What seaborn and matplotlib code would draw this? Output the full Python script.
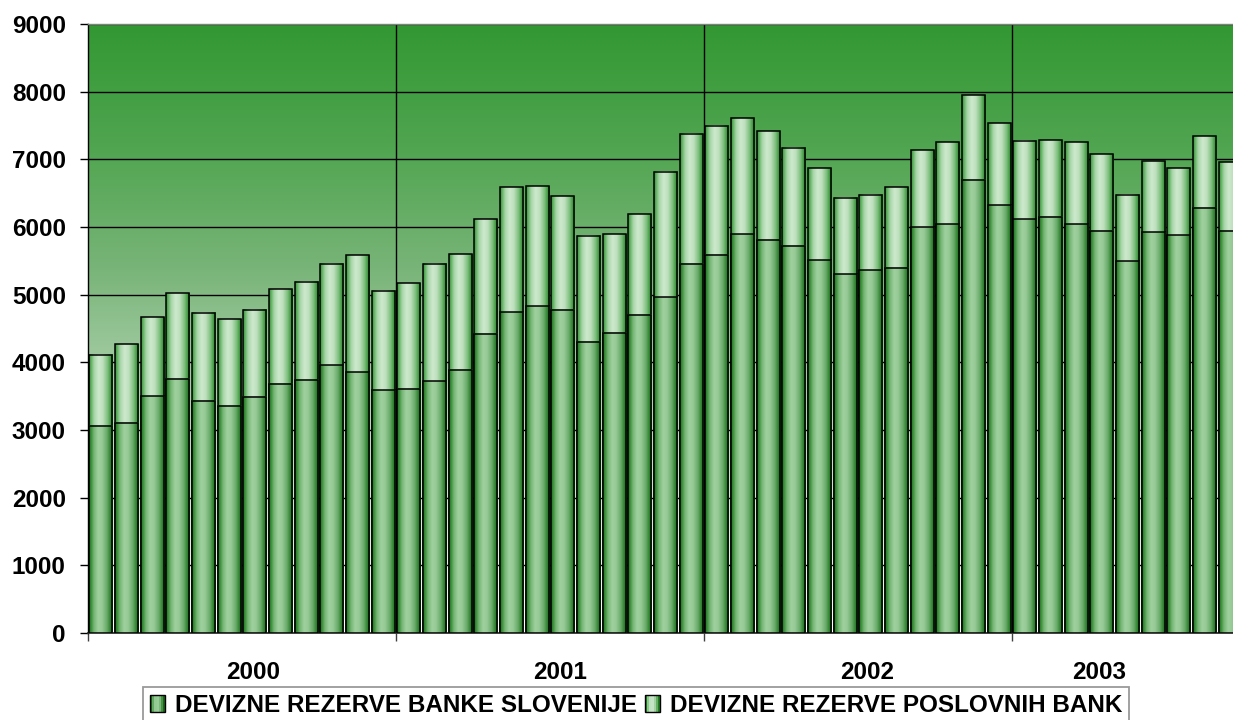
import numpy as np
import pandas as pd
import matplotlib
matplotlib.use("Agg")
import matplotlib.pyplot as plt
import seaborn as sns
from matplotlib.colors import LinearSegmentedColormap
from matplotlib.legend_handler import HandlerBase
from matplotlib.patches import Rectangle, Patch

# ---------------- data ----------------
months = pd.period_range("2000-01", "2003-09", freq="M").strftime("%Y-%m").tolist()
year_labels = ["2000", "2001", "2002", "2003"]
year_label_pos = [5.92, 17.9, 29.85, 38.9]
year_bounds = [-0.5, 11.5, 23.5, 35.5]

banka_slovenije = [3060, 3110, 3500, 3755, 3435, 3360, 3490, 3680, 3740, 3960, 3850, 3590,
                   3610, 3720, 3890, 4420, 4740, 4830, 4780, 4305, 4440, 4700, 4965, 5455,
                   5590, 5890, 5815, 5720, 5505, 5300, 5360, 5400, 6000, 6040, 6700, 6320,
                   6115, 6155, 6040, 5945, 5495, 5920, 5875, 6285, 5945]
poslovne_banke = [1050, 1160, 1165, 1265, 1300, 1280, 1285, 1400, 1450, 1495, 1735, 1465,
                  1560, 1735, 1710, 1695, 1850, 1770, 1675, 1565, 1450, 1490, 1850, 1925,
                  1905, 1720, 1600, 1450, 1365, 1135, 1115, 1190, 1135, 1210, 1250, 1210,
                  1160, 1130, 1210, 1130, 980, 1055, 995, 1055, 1010]
series_names = ["DEVIZNE REZERVE BANKE SLOVENIJE", "DEVIZNE REZERVE POSLOVNIH BANK"]
yticks = [0, 1000, 2000, 3000, 4000, 5000, 6000, 7000, 8000, 9000]

df = pd.DataFrame({"mesec": months, "bs": banka_slovenije, "pb": poslovne_banke})
df["skupaj"] = df["bs"] + df["pb"]

# ---------------- style ----------------
sns.set_theme(style="white")
plt.rcParams["font.family"] = ["Liberation Sans", "DejaVu Sans"]
plt.rcParams["font.weight"] = "bold"
plt.rcParams["text.color"] = "black"
plt.rcParams["xtick.color"] = "black"
plt.rcParams["ytick.color"] = "black"

W, H = 1233, 720
fig = plt.figure(figsize=(W / 100, H / 100), dpi=100)
ax_left, ax_right, ax_top, ax_bot = 88, 1243, 24, 633
ax = fig.add_axes([ax_left / W, (H - ax_bot) / H, (ax_right - ax_left) / W, (ax_bot - ax_top) / H])

def rgb(*c):
    return tuple(v / 255 for v in c)

low_cmap = LinearSegmentedColormap.from_list("low", [
    (0.00, rgb(25, 110, 25)), (0.08, rgb(55, 140, 55)), (0.20, rgb(115, 180, 115)),
    (0.38, rgb(158, 208, 158)), (0.55, rgb(150, 202, 150)), (0.75, rgb(105, 170, 105)),
    (0.90, rgb(45, 128, 45)), (1.00, rgb(25, 105, 25))])
up_cmap = LinearSegmentedColormap.from_list("up", [
    (0.00, rgb(40, 140, 40)), (0.08, rgb(95, 175, 95)), (0.22, rgb(170, 215, 170)),
    (0.40, rgb(205, 233, 205)), (0.58, rgb(190, 224, 190)), (0.78, rgb(125, 190, 125)),
    (0.92, rgb(60, 150, 60)), (1.00, rgb(35, 125, 35))])
bg_cmap = LinearSegmentedColormap.from_list("bg", [
    (0.0, rgb(255, 255, 255)), (0.35, rgb(185, 215, 185)), (0.6, rgb(120, 180, 120)),
    (0.8, rgb(80, 165, 80)), (1.0, rgb(50, 152, 50))])

# background gradient
ax.imshow(np.linspace(0, 1, 256).reshape(-1, 1), cmap=bg_cmap, origin="lower",
          extent=(0, 1, 0, 1), transform=ax.transAxes, aspect="auto", zorder=0)

# bars: totals (top series) then bottom series over them
sns.barplot(data=df, x="mesec", y="skupaj", color=rgb(180, 220, 180), saturation=1,
            width=0.9, edgecolor="black", linewidth=1.1, ax=ax, zorder=2)
n = len(df)
sns.barplot(data=df, x="mesec", y="bs", color=rgb(140, 195, 140), saturation=1,
            width=0.9, edgecolor="black", linewidth=1.1, ax=ax, zorder=3)

grad = np.linspace(0, 1, 128).reshape(1, -1)
for i, p in enumerate(ax.patches):
    cmap = up_cmap if i < n else low_cmap
    z = 2 if i < n else 3
    x0, y0, w, h = p.get_x(), p.get_y(), p.get_width(), p.get_height()
    ax.imshow(grad, cmap=cmap, extent=(x0, x0 + w, y0, y0 + h), aspect="auto",
              zorder=z, interpolation="bilinear", origin="lower")
    p.set_facecolor("none")
    p.set_zorder(z + 0.5)

# grid and year separators
ax.set_axisbelow(True)
ax.yaxis.grid(True, color="black", linewidth=1.0, zorder=0.5)
ax.xaxis.grid(False)
for b in year_bounds[1:]:
    ax.axvline(b, color="black", linewidth=1.0, zorder=0.6)

ax.set_xlim(-0.5, n - 0.5)
ax.set_ylim(0, 9000)
ax.set_yticks(yticks)
ax.set_yticklabels([str(t) for t in yticks], fontsize=17.5, fontweight="bold", color="black")
ax.tick_params(axis="y", which="major", length=6, width=1, color="black", direction="out",
               pad=10, left=True, labelcolor="black")

ax.set_xticks(year_bounds)
ax.set_xticklabels([""] * len(year_bounds))
ax.set_xticks(year_label_pos, minor=True)
ax.set_xticklabels(year_labels, minor=True, fontsize=17.5, fontweight="bold", color="black")
ax.tick_params(axis="x", which="major", length=6, width=1, color="#404040", direction="out", bottom=True)
ax.tick_params(axis="x", which="minor", length=0, pad=20, bottom=True, labelcolor="black")
ax.set_xlabel("")
ax.set_ylabel("")

ax.spines["left"].set_color("black"); ax.spines["left"].set_linewidth(1.0)
ax.spines["bottom"].set_color("#303030"); ax.spines["bottom"].set_linewidth(1.3)
ax.spines["top"].set_color("#808080"); ax.spines["top"].set_linewidth(1.0)
ax.spines["right"].set_visible(False)

# legend
class GradHandler(HandlerBase):
    def __init__(self, cols):
        super().__init__()
        self.cols = cols
    def create_artists(self, legend, orig_handle, xdescent, ydescent, width, height, fontsize, trans):
        arts = []
        k = len(self.cols)
        for j, c in enumerate(self.cols):
            arts.append(Rectangle((-xdescent + j * width / k, -ydescent), width / k, height,
                                  facecolor=c, edgecolor="none", transform=trans))
        arts.append(Rectangle((-xdescent, -ydescent), width, height, facecolor="none",
                              edgecolor="black", linewidth=1, transform=trans))
        return arts

h1, h2 = Patch(label=series_names[0]), Patch(label=series_names[1])
low_cols = [low_cmap(t) for t in np.linspace(0, 1, 7)]
up_cols = [up_cmap(t) for t in np.linspace(0, 1, 7)]
leg = fig.legend(handles=[h1, h2], labels=series_names, loc="upper left",
                 bbox_to_anchor=(143 / W, 1 - 687 / H), ncol=2, frameon=True, fancybox=False,
                 borderaxespad=0, borderpad=0.3, handlelength=0.6, handleheight=0.7,
                 handletextpad=0.4, columnspacing=0.35,
                 prop={"size": 17.5, "weight": "bold"},
                 handler_map={h1: GradHandler(low_cols), h2: GradHandler(up_cols)})
leg.get_frame().set_edgecolor("#808080")
leg.get_frame().set_linewidth(1.3)
for t in leg.get_texts():
    t.set_color("black")

fig.savefig("out.png", dpi=100)
